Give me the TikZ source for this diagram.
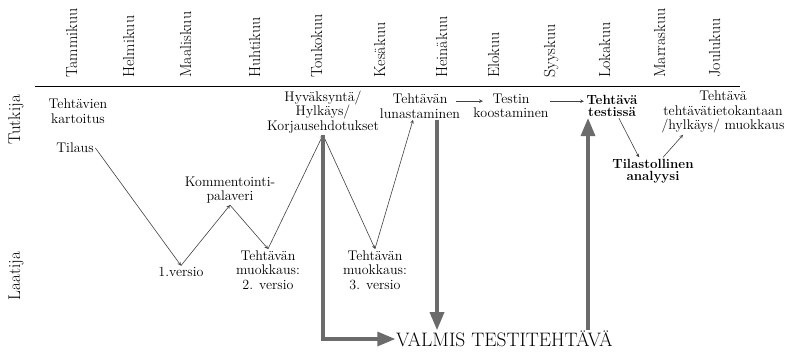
\documentclass[tikz,border=0pt]{standalone}
\usepackage{fontspec}
\usepackage{tikz}
\usetikzlibrary{arrows,positioning}

\tikzset{
  mon/.style={rotate=90, anchor=mid west, inner sep=0pt, font=\fontsize{16}{18}\selectfont},
  role/.style={rotate=90, inner sep=0pt, font=\fontsize{17}{19}\selectfont},
  txt/.style={align=center, inner sep=1.5pt, font=\fontsize{14}{14.5}\selectfont},
  bld/.style={align=center, inner sep=1.5pt, font=\fontsize{13.3}{12}\selectfont\bfseries},
  thin/.style={->, >=stealth, draw=black!75, line width=0.6pt},
  fat/.style={->, >=triangle 45, draw=black!58, line width=3.2pt}
}

\begin{document}
\begin{tikzpicture}[x=1pt, y=-1pt]
  \useasboundingbox (0,0) rectangle (791,351);

  % Months
  \node[mon] (m1) at (75,78) {Tammikuu};
  \node[mon] (m2) at (132,78) {Helmikuu};
  \node[mon] (m3) at (189,78) {Maaliskuu};
  \node[mon] (m4) at (258,78) {Huhtikuu};
  \node[mon] (m5) at (320,78) {Toukokuu};
  \node[mon] (m6) at (383,78) {Kesäkuu};
  \node[mon] (m7) at (445,78) {Heinäkuu};
  \node[mon] (m8) at (497,78) {Elokuu};
  \node[mon] (m9) at (553,78) {Syyskuu};
  \node[mon] (m10) at (608,78) {Lokakuu};
  \node[mon] (m11) at (663,78) {Marraskuu};
  \node[mon] (m12) at (718,78) {Joulukuu};
  \draw[line width=0.8pt] (35,86) -- (740,86);

  % Roles
  \node[role] (tutkija) at (16,120) {Tutkija};
  \node[role] (laatija) at (16,276) {Laatija};

  % Steps
  \node[txt] (kartoitus) at (78,111) {Tehtävien\\kartoitus};
  \node[txt] (tilaus) at (75,148) {Tilaus};
  \node[txt] (versio1) at (181,272) {1.versio};
  \node[txt] (palaveri) at (230,190) {Kommentointi-\\palaveri};
  \node[txt] (versio2) at (268,270) {Tehtävän\\muokkaus:\\2. versio};
  \node[txt] (hyvaksynta) at (323,112) {Hyväksyntä/\\Hylkäys/\\Korjausehdotukset};
  \node[txt] (versio3) at (375,270) {Tehtävän\\muokkaus:\\3. versio};
  \node[txt] (lunastus) at (420,106) {Tehtävän\\lunastaminen};
  \node[txt] (koostus) at (511,106) {Testin\\koostaminen};
  \node[bld] (testissa) at (612,106) {Tehtävä\\testissä};
  \node[bld] (analyysi) at (653,171) {Tilastollinen\\analyysi};
  \node[txt] (tietokanta) at (723,112) {Tehtävä\\tehtävätietokantaan\\/hylkäys/ muokkaus};
  \node[anchor=west, inner sep=1pt, font=\fontsize{19.5}{21}\selectfont] (valmis) at (395,339) {VALMIS TESTITEHTÄVÄ};

  % Thin arrows
  \draw[thin] (tilaus.east) -- (versio1.north);
  \draw[thin] (versio1.north) -- (palaveri.south);
  \draw[thin] (palaveri.south) -- (versio2.north);
  \draw[thin] (versio2.north) -- (hyvaksynta.south);
  \draw[thin] (hyvaksynta.south) -- (versio3.north);
  \draw[thin] (versio3.north) -- ([xshift=-7pt]lunastus.south);
  \draw[thin] ([xshift=-6pt,yshift=-9pt]lunastus.north east) coordinate (l1)
    -- ([xshift=11pt]koostus.west |- l1);
  \draw[thin] ([yshift=-9pt]koostus.north east) coordinate (k1)
    -- ([xshift=-1pt]testissa.west |- k1);
  \draw[thin] ([xshift=7pt]testissa.south) -- ([xshift=-14pt]analyysi.north);
  \draw[thin] ([xshift=10pt]analyysi.north) -- ([xshift=-40pt]tietokanta.south);

  % Thick arrows to the finished task
  \draw[fat] (hyvaksynta.south) -- (hyvaksynta.south |- valmis.west) -- (valmis.west);
  \draw[fat] ([xshift=17pt]lunastus.south) -- ([xshift=17pt]lunastus.south |- valmis.north);
  \draw[fat] ([xshift=-24pt]testissa.south |- valmis.north) -- ([xshift=-24pt]testissa.south);
\end{tikzpicture}
\end{document}
